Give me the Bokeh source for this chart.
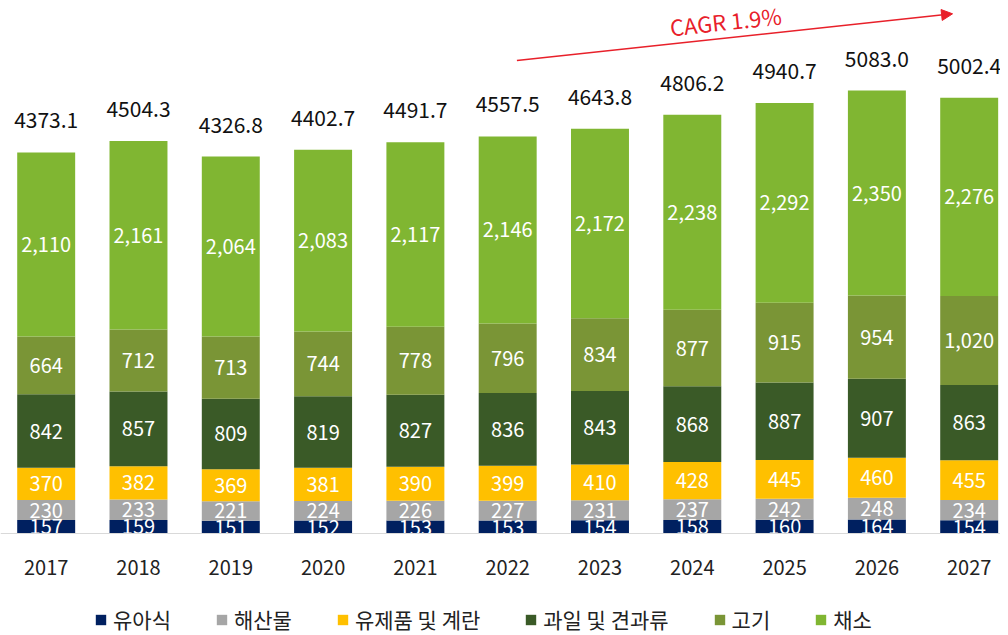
from bokeh.plotting import figure
from bokeh.models import (ColumnDataSource, Range1d, FixedTicker, Arrow, NormalHead,
                          Label, Legend, LegendItem)
from bokeh.core.properties import value
from bokeh.embed import file_html
from bokeh.resources import INLINE

years = ["2017", "2018", "2019", "2020", "2021", "2022", "2023", "2024", "2025", "2026", "2027"]
infant = [157, 159, 151, 152, 153, 153, 154, 158, 160, 164, 154]
seafood = [230, 233, 221, 224, 226, 227, 231, 237, 242, 248, 234]
dairy = [370, 382, 369, 381, 390, 399, 410, 428, 445, 460, 455]
fruit = [842, 857, 809, 819, 827, 836, 843, 868, 887, 907, 863]
meat = [664, 712, 713, 744, 778, 796, 834, 877, 915, 954, 1020]
veg = [2110, 2161, 2064, 2083, 2117, 2146, 2172, 2238, 2292, 2350, 2276]
totals = [4373.1, 4504.3, 4326.8, 4402.7, 4491.7, 4557.5, 4643.8, 4806.2, 4940.7, 5083.0, 5002.4]

series_keys = ["infant", "seafood", "dairy", "fruit", "meat", "veg"]
series_names = ["유아식", "해산물", "유제품 및 계란", "과일 및 견과류", "고기", "채소"]
series_values = [infant, seafood, dairy, fruit, meat, veg]
colors = ["#002060", "#a6a6a6", "#ffc000", "#3a5a27", "#7a9536", "#80b632"]
cagr_text = "CAGR 1.9%"

FONT = "Noto Sans CJK KR"

xs = list(range(len(years)))
data = {"x": xs, "total": totals, "total_txt": [f"{t:.1f}" for t in totals]}
base = [0] * len(years)
for key, vals in zip(series_keys, series_values):
    data[key] = vals
    data[key + "_mid"] = [b + v / 2 for b, v in zip(base, vals)]
    data[key + "_txt"] = [f"{v:,}" for v in vals]
    base = [b + v for b, v in zip(base, vals)]
source = ColumnDataSource(data)

W, H = 1000, 634
px_per_cat = 92.3
px_per_unit = 0.0872
base_px = 533.3  # baseline distance from top
p = figure(width=W, height=H, output_backend="svg", toolbar_location=None,
           title=None,
           x_range=Range1d(-0.495, -0.495 + W / px_per_cat),
           y_range=Range1d(-(H - base_px) / px_per_unit, base_px / px_per_unit),
           y_axis_location=None, min_border_left=0, min_border_right=0,
           min_border_top=0, min_border_bottom=0)
p.outline_line_color = None
p.xgrid.grid_line_color = None
p.ygrid.grid_line_color = None

renderers = p.vbar_stack(series_keys, x="x", width=0.628, color=colors, source=source,
                         line_color=None)

for key in series_keys:
    p.text(x="x", y=key + "_mid", text=key + "_txt", source=source,
           text_color="white", text_font=value(FONT), text_font_size="20px",
           text_align="center", text_baseline="middle")

p.text(x="x", y="total", text="total_txt", source=source, y_offset=-32,
       text_color="#111111", text_font=value(FONT), text_font_size="21px",
       text_align="center", text_baseline="middle")

ax = p.xaxis[0]
ax.fixed_location = 0
ax.ticker = FixedTicker(ticks=xs)
ax.major_label_overrides = {i: y for i, y in zip(xs, years)}
ax.major_label_text_font = FONT
ax.major_label_text_font_size = "20px"
ax.major_label_text_color = "#222222"
ax.major_tick_line_color = None
ax.major_tick_out = 0
ax.minor_tick_line_color = None
ax.axis_line_color = "#d9d9d9"
ax.axis_line_width = 1
ax.major_label_standoff = 26

red = "#e8202a"
p.add_layout(Arrow(x_start=5.10, y_start=5428, x_end=9.82, y_end=5963,
                   line_color=red, line_width=1.5,
                   end=NormalHead(size=11, fill_color=red, line_color=red)))
p.add_layout(Label(x=7.36, y=5887, text=cagr_text, angle=0.107, text_color=red,
                   text_font=FONT, text_font_size="22px", text_align="center",
                   text_baseline="middle"))

legend = Legend(items=[LegendItem(label=n, renderers=[r]) for n, r in zip(series_names, renderers)],
                orientation="horizontal", location=(94, 0), margin=0, padding=0,
                border_line_color=None, background_fill_alpha=0,
                glyph_width=13, glyph_height=13, label_standoff=6, spacing=44,
                label_text_font=FONT, label_text_font_size="21px",
                label_text_color="#222222")
p.add_layout(legend, "center")

open("out.html", "w").write(file_html(p, INLINE))
